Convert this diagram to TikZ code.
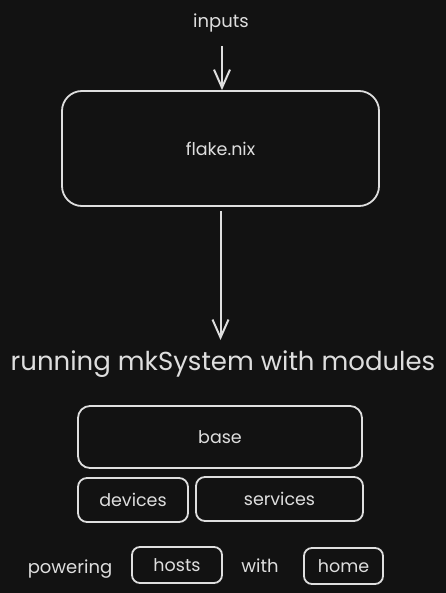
\documentclass[tikz,border=0pt]{standalone}
\usepackage{fontspec}
\setmainfont{Poppins}
\usetikzlibrary{arrows.meta}
\definecolor{bg}{HTML}{121212}
\definecolor{ink}{HTML}{DEDEDE}
\begin{document}
\begin{tikzpicture}[x=1pt,y=-1pt,
  box/.style={draw=ink,line width=1.8pt,text=ink,font=\fontsize{17.5}{20}\selectfont,inner sep=0pt},
  lbl/.style={text=ink,font=\fontsize{18}{21}\selectfont,inner sep=0pt},
  arr/.style={draw=ink,line width=2pt,-{Straight Barb[length=18pt,width=16pt,line width=2pt]}}]
\fill[bg] (0,0) rectangle (446,593);
\useasboundingbox (0,0) rectangle (446,593);
\node[lbl] (inputs) at (221,23) {inputs};
\node[box,rounded corners=20pt,minimum width=317pt,minimum height=115pt] (flake) at (220.5,148.5) {flake.nix};
\node[lbl,font=\fontsize{26}{30}\selectfont] (run) at (223,364) {running mkSystem with modules};
\node[box,rounded corners=12pt,minimum width=284pt,minimum height=62pt] (base) at (220,437) {base};
\node[box,rounded corners=9pt,minimum width=110pt,minimum height=44pt] (devices) at (133,500) {devices};
\node[box,rounded corners=9pt,minimum width=167pt,minimum height=44pt] (services) at (279.5,499) {services};
\node[lbl] (powering) at (70,569) {powering};
\node[box,rounded corners=8pt,minimum width=90pt,minimum height=36pt] (hosts) at (177,565) {hosts};
\node[lbl] (with) at (260,566) {with};
\node[box,rounded corners=8pt,minimum width=79pt,minimum height=36pt] (home) at (343.5,566) {home};
\coordinate (a0) at (222,46);
\draw[arr] (a0) -- (flake.north -| a0);
\coordinate (a1) at (220.5,340);
\draw[arr] ([yshift=-4pt]flake.south) -- (a1);
\end{tikzpicture}
\end{document}
